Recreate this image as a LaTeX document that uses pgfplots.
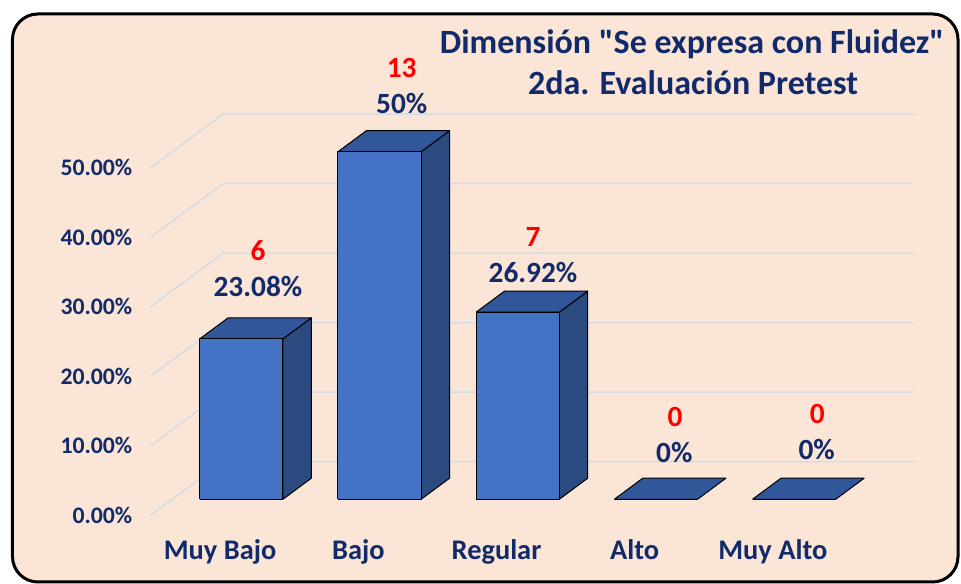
\documentclass[border=0pt]{standalone}
\usepackage{pgfplots}
\pgfplotsset{compat=1.18}
\usepackage{fontspec}
\setmainfont{Carlito}
\newfontfamily\titlefont{Carlito}[Ligatures=TeXOff]
\usetikzlibrary{calc,backgrounds}
\definecolor{bgpeach}{HTML}{FBE5D6}
\definecolor{navy}{HTML}{102A6A}
\definecolor{frontc}{HTML}{4472C4}
\definecolor{topc}{HTML}{31569A}
\definecolor{sidec}{HTML}{2B4A80}
\definecolor{gridc}{HTML}{D5DCE4}
\begin{document}
\begin{tikzpicture}
\begin{axis}[
  at={(0,0)}, anchor=origin,
  x={(103.65pt,0pt)}, y={(54pt,40pt)}, z={(0pt,5.2125pt)},
  xmin=0, xmax=5, ymin=0, ymax=1, zmin=0, zmax=50,
  hide axis, clip=false,
  every axis plot/.append style={mark=none, line width=0.75pt, draw=black, line join=round},
]
\coordinate (O) at (axis cs:0,0,0);
% gridlines (side wall and back wall)
\pgfplotsinvokeforeach{0,10,20,30,40,50}{
  \draw[gridc, line width=1.1pt] (axis cs:0,0,#1) -- (axis cs:0,1,#1) -- (axis cs:5,1,#1);
}
% ---- Muy Bajo 23.08
\addplot3[fill=sidec] coordinates {(0.801,0.295,0) (0.801,0.689,0) (0.801,0.689,23.08) (0.801,0.295,23.08) (0.801,0.295,0)};
\addplot3[fill=topc] coordinates {(0.199,0.295,23.08) (0.801,0.295,23.08) (0.801,0.689,23.08) (0.199,0.689,23.08) (0.199,0.295,23.08)};
\addplot3[fill=frontc] coordinates {(0.199,0.295,0) (0.801,0.295,0) (0.801,0.295,23.08) (0.199,0.295,23.08) (0.199,0.295,0)};
% ---- Bajo 50
\addplot3[fill=sidec] coordinates {(1.801,0.295,0) (1.801,0.689,0) (1.801,0.689,50) (1.801,0.295,50) (1.801,0.295,0)};
\addplot3[fill=topc] coordinates {(1.199,0.295,50) (1.801,0.295,50) (1.801,0.689,50) (1.199,0.689,50) (1.199,0.295,50)};
\addplot3[fill=frontc] coordinates {(1.199,0.295,0) (1.801,0.295,0) (1.801,0.295,50) (1.199,0.295,50) (1.199,0.295,0)};
% ---- Regular 26.92
\addplot3[fill=sidec] coordinates {(2.801,0.295,0) (2.801,0.689,0) (2.801,0.689,26.92) (2.801,0.295,26.92) (2.801,0.295,0)};
\addplot3[fill=topc] coordinates {(2.199,0.295,26.92) (2.801,0.295,26.92) (2.801,0.689,26.92) (2.199,0.689,26.92) (2.199,0.295,26.92)};
\addplot3[fill=frontc] coordinates {(2.199,0.295,0) (2.801,0.295,0) (2.801,0.295,26.92) (2.199,0.295,26.92) (2.199,0.295,0)};
% ---- Alto 0
\addplot3[fill=topc] coordinates {(3.199,0.295,0) (3.801,0.295,0) (3.801,0.689,0) (3.199,0.689,0) (3.199,0.295,0)};
% ---- Muy Alto 0
\addplot3[fill=topc] coordinates {(4.199,0.295,0) (4.801,0.295,0) (4.801,0.689,0) (4.199,0.689,0) (4.199,0.295,0)};
% tick labels
\pgfplotsinvokeforeach{0,10,20,30,40,50}{
  \node[anchor=east, text=navy, font=\fontsize{17.8}{20}\selectfont\bfseries, xshift=-10.5pt] at (axis cs:0,0,#1) {#1.00\%};
}
% category labels
\tikzset{catl/.style={anchor=base, text=navy, font=\fontsize{21.3}{24}\selectfont\bfseries, yshift=-33.75pt}}
\node[catl] at (axis cs:0.5,0,0) {Muy Bajo};
\node[catl] at (axis cs:1.5,0,0) {Bajo};
\node[catl] at (axis cs:2.5,0,0) {Regular};
\node[catl] at (axis cs:3.5,0,0) {Alto};
\node[catl] at (axis cs:4.5,0,0) {Muy Alto};
% data labels
\tikzset{pct/.style={text=navy, font=\fontsize{22}{26}\selectfont\bfseries, anchor=center},
         cnt/.style={text=red, font=\fontsize{22}{26}\selectfont\bfseries, anchor=center}}
\node[cnt] at (axis cs:0.774,0,37.99) {6};
\node[pct] at (axis cs:0.774,0,32.85) {23.08\%};
\node[cnt] at (axis cs:1.814,0,64.32) {13};
\node[pct] at (axis cs:1.814,0,59.14) {50\%};
\node[cnt] at (axis cs:2.764,0,40.07) {7};
\node[pct] at (axis cs:2.764,0,34.89) {26.92\%};
\node[cnt] at (axis cs:3.792,0,14.17) {0};
\node[pct] at (axis cs:3.787,0,8.96) {0\%};
\node[cnt] at (axis cs:4.821,0,14.53) {0};
\node[pct] at (axis cs:4.817,0,9.35) {0\%};
% title
\node[anchor=base, text=navy, font=\titlefont\fontsize{25.5}{30}\selectfont\bfseries] at (axis cs:3.915,0,66.47) {Dimensión "Se expresa con Fluidez"};
\node[anchor=base, text=navy, font=\titlefont\fontsize{25.5}{30}\selectfont\bfseries] at (axis cs:3.922,0,60.43) {2da. Evaluación Pretest};
\end{axis}
\begin{scope}[on background layer]
  \fill[white] ($(O)+(-113.25pt,-51.75pt)$) rectangle ($(O)+(607.5pt,386.25pt)$);
  \draw[line width=2.25pt, rounded corners=19pt, fill=bgpeach] ($(O)+(-103.875pt,-50.25pt)$) rectangle ($(O)+(605.25pt,375.75pt)$);
\end{scope}
\pgfresetboundingbox
\path[use as bounding box] ($(O)+(-113.25pt,-51.75pt)$) rectangle ($(O)+(607.5pt,386.25pt)$);
\end{tikzpicture}
\end{document}
